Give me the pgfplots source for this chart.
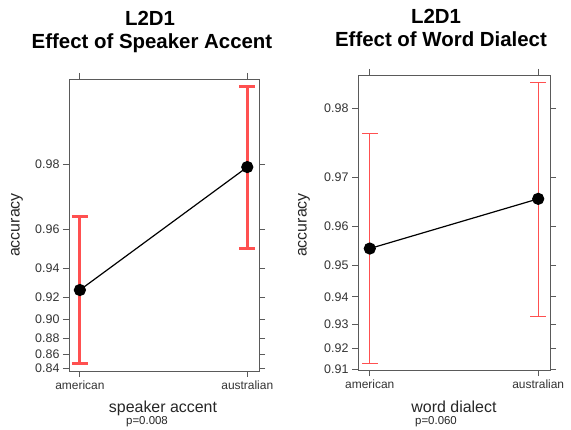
\documentclass[border=0pt]{standalone}
\usepackage{fontspec}
\setmainfont{Liberation Sans}
\usepackage{pgfplots}
\pgfplotsset{compat=1.18}
\definecolor{errred}{RGB}{255,80,80}
\definecolor{axgray}{RGB}{90,90,90}
\pgfplotsset{
  logitstyle/.style={
    scale only axis,
    y coord trafo/.code={\pgfmathparse{ln(##1/(1-##1))}},
    y coord inv trafo/.code={\pgfmathparse{1/(1+exp(-##1))}},
    clip=false,
    axis line style={axgray, line width=0.8bp},
    every tick/.style={axgray, line width=0.8bp},
    tick align=outside,
    major tick length=6bp,
    xtick={1,2},
    xticklabels={american,australian},
    x tick label style={font=\fontsize{12}{14}\selectfont, text=black!80},
    y tick label style={font=\fontsize{12.5}{15}\selectfont, text=black!80},
    /pgf/number format/assume math mode=true,
  },
  ebarstyle/.style={draw=errred, line width=3bp, no marks, forget plot},
  efill/.style={fill=errred, draw=none, no marks, forget plot},
  ptstyle/.style={color=black, draw=black, line width=1.2bp, mark=*, mark size=5.5bp, mark options={fill=black, draw=black}},
}
\begin{document}
\begin{tikzpicture}
\path[use as bounding box] (0bp,0bp) rectangle (571bp,430bp);
\begin{axis}[logitstyle, at={(69bp,59bp)}, anchor=south west, width=190bp, height=292bp,
  xmin=0.935, xmax=2.07, ymin=0.8366, ymax=0.99204,
  ytick={0.84,0.86,0.88,0.90,0.92,0.94,0.96,0.98},
  yticklabels={0.84,0.86,0.88,0.90,0.92,0.94,0.96,0.98},
]
\addplot[ebarstyle] coordinates {(1,0.8478) (1,0.9653)};
\addplot[ebarstyle] coordinates {(0.952,0.8478) (1.048,0.8478)};
\addplot[ebarstyle] coordinates {(0.952,0.9653) (1.048,0.9653)};
\addplot[ebarstyle] coordinates {(2,0.9514) (2,0.9914)};
\addplot[ebarstyle] coordinates {(1.952,0.9514) (2.048,0.9514)};
\addplot[ebarstyle] coordinates {(1.952,0.9914) (2.048,0.9914)};
\addplot[ptstyle] coordinates {(1,0.9254) (2,0.9794)};
\end{axis}
\begin{axis}[logitstyle, at={(358bp,60bp)}, anchor=south west, width=192bp, height=295bp,
  xmin=0.93, xmax=2.07, ymin=0.90968, ymax=0.98356,
  ytick={0.91,0.92,0.93,0.94,0.95,0.96,0.97,0.98},
  yticklabels={0.91,0.92,0.93,0.94,0.95,0.96,0.97,0.98},
]
\addplot[efill] coordinates {(0.9965,0.9130) (1.0035,0.9130) (1.0035,0.9768) (0.9965,0.9768)} -- cycle;
\addplot[efill] coordinates {(0.952,0.91285) (1.048,0.91285) (1.048,0.91315) (0.952,0.91315)} -- cycle;
\addplot[efill] coordinates {(0.952,0.97675) (1.048,0.97675) (1.048,0.97685) (0.952,0.97685)} -- cycle;
\addplot[efill] coordinates {(1.9965,0.9331) (2.0035,0.9331) (2.0035,0.9828) (1.9965,0.9828)} -- cycle;
\addplot[efill] coordinates {(1.952,0.93295) (2.048,0.93295) (2.048,0.93325) (1.952,0.93325)} -- cycle;
\addplot[efill] coordinates {(1.952,0.98275) (2.048,0.98275) (2.048,0.98285) (1.952,0.98285)} -- cycle;
\addplot[ptstyle] coordinates {(1,0.9545) (2,0.9659)};
\end{axis}
\node[font=\fontsize{20.5}{24}\selectfont\bfseries, anchor=base] at (150bp,404bp) {L2D1};
\node[font=\fontsize{20.5}{24}\selectfont\bfseries, anchor=base] at (152bp,381bp) {Effect of Speaker Accent};
\node[font=\fontsize{20.5}{24}\selectfont\bfseries, anchor=base] at (436bp,406bp) {L2D1};
\node[font=\fontsize{20.5}{24}\selectfont\bfseries, anchor=base] at (441bp,383bp) {Effect of Word Dialect};
\node[font=\fontsize{16}{19}\selectfont, anchor=base, text=black!85] at (163bp,18bp) {speaker accent};
\node[font=\fontsize{11.5}{13}\selectfont, anchor=base, text=black!85] at (147bp,6bp) {p=0.008};
\node[font=\fontsize{16}{19}\selectfont, anchor=base, text=black!85] at (454bp,18bp) {word dialect};
\node[font=\fontsize{11.5}{13}\selectfont, anchor=base, text=black!85] at (436bp,6bp) {p=0.060};
\node[font=\fontsize{16}{19}\selectfont, rotate=90, text=black!85] at (17bp,205bp) {accuracy};
\node[font=\fontsize{16}{19}\selectfont, rotate=90, text=black!85] at (304bp,205bp) {accuracy};
\end{tikzpicture}
\end{document}
